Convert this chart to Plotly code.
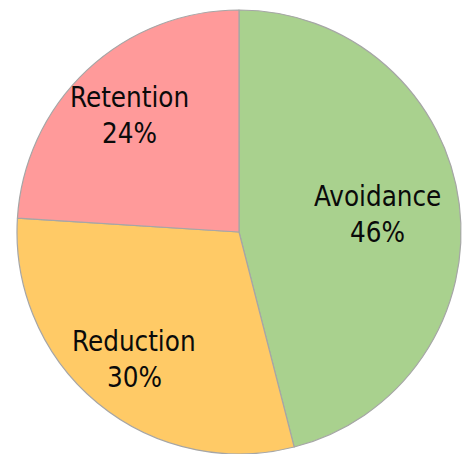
import math
import plotly.graph_objects as go

# Risk treatment strategies and their shares (%)
labels = ["Avoidance", "Reduction", "Retention"]
values = [46, 30, 24]
colors = ["#A9D18E", "#FFCA66", "#FF9A9A"]

W, H = 466, 454
# pie domain in paper units (square, so radius = 222 px)
dom_x = [17 / W, 461 / W]
dom_y = [0.0, 444 / H]

fig = go.Figure(
    go.Pie(
        labels=labels,
        values=values,
        sort=False,
        direction="clockwise",
        rotation=0,
        marker=dict(colors=colors, line=dict(color="#A6A6A6", width=1.2)),
        textinfo="none",
        hoverinfo="label+percent",
        showlegend=False,
        domain=dict(x=dom_x, y=dom_y),
    )
)

# label placement: along each slice's bisector at a fraction of the radius
cx = (dom_x[0] + dom_x[1]) / 2 * W
cy = H - (dom_y[0] + dom_y[1]) / 2 * H
R = min((dom_x[1] - dom_x[0]) * W, (dom_y[1] - dom_y[0]) * H) / 2
label_radius = [0.63, 0.74, 0.72]

font = dict(family="DejaVu Sans Condensed, DejaVu Sans, sans-serif", size=27.5, color="#0a0a0a")
total = sum(values)
start = 0.0
for name, v, rf in zip(labels, values, label_radius):
    mid = (start + v / 2) / total * 2 * math.pi
    start += v
    px = cx + rf * R * math.sin(mid)
    py = cy - rf * R * math.cos(mid)
    pct = f"{round(100 * v / total)}%"
    for txt, shift in ((name, 18), (pct, -18)):
        fig.add_annotation(
            x=px / W, y=1 - py / H, xref="paper", yref="paper",
            text=txt, showarrow=False, font=font,
            xanchor="center", yanchor="middle", yshift=shift,
        )

fig.update_layout(
    width=W, height=H,
    margin=dict(l=0, r=0, t=0, b=0),
    paper_bgcolor="white",
    plot_bgcolor="white",
)

fig.write_html("out.html")
